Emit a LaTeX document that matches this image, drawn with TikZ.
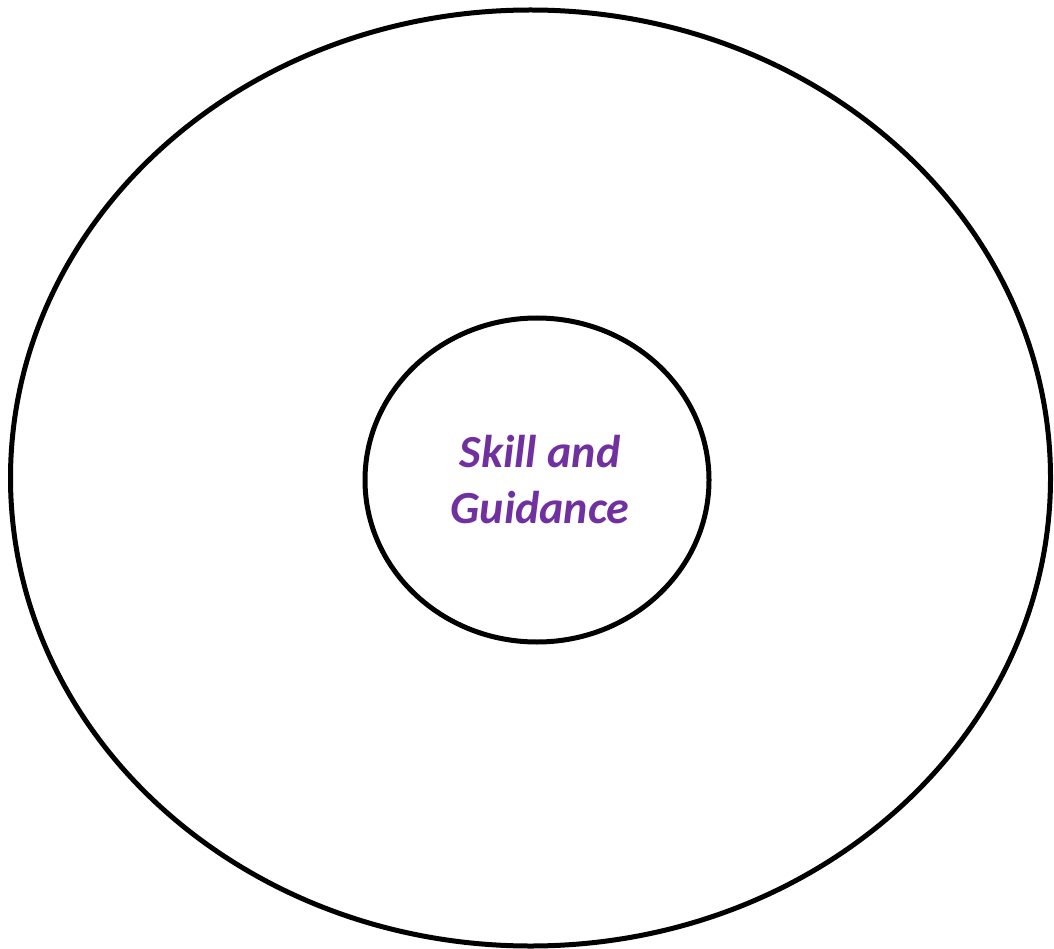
\documentclass[tikz,border=0pt]{standalone}
\usepackage{fontspec}
\setmainfont{Carlito}
\definecolor{txtpurple}{HTML}{7030A0}
\tikzset{ring/.style={draw=black,line width=5pt}}
\begin{document}
\begin{tikzpicture}[x=1pt,y=-1pt]
\useasboundingbox (0,0) rectangle (1054,949);
\fill[white] (0,0) rectangle (1054,949);
\draw[ring] (530.5,478) ellipse [x radius=520, y radius=468];
\draw[ring] (537,480) ellipse [x radius=172, y radius=162];
\node[text=txtpurple,font=\fontsize{46}{56}\selectfont\bfseries\itshape,align=center] (label) at (540,480) {Skill and\\Guidance};
\end{tikzpicture}
\end{document}
